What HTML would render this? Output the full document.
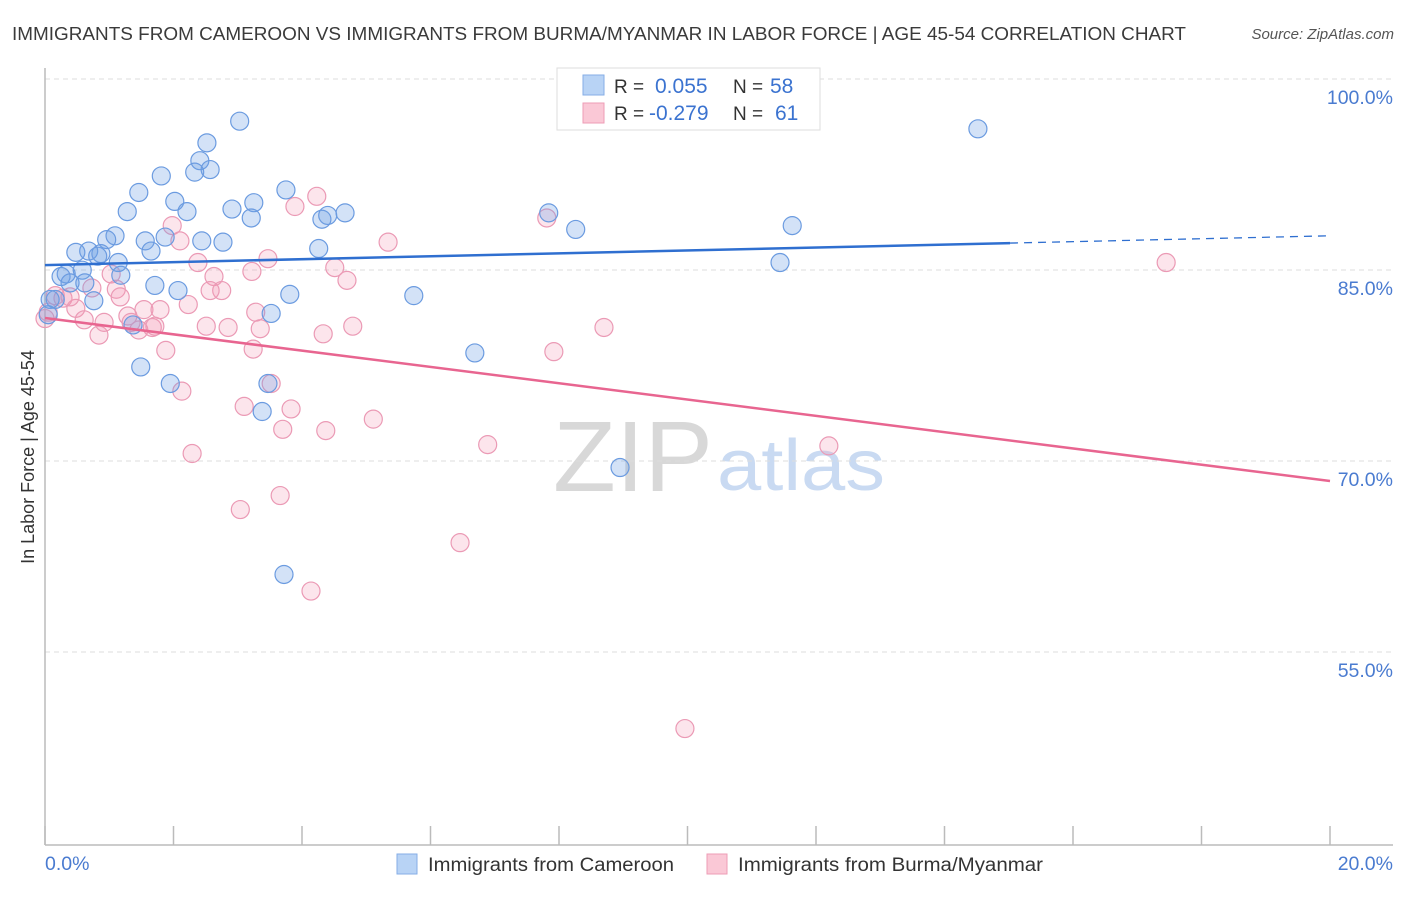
<!DOCTYPE html>
<html><head><meta charset="utf-8"><style>
body{margin:0;background:#fff;font-family:"Liberation Sans",sans-serif;}
svg text{font-family:"Liberation Sans",sans-serif;}
</style></head><body>
<svg id="chart" width="1406" height="892" xmlns="http://www.w3.org/2000/svg">
<text x="12" y="40" font-size="18" fill="#3a3a3a" textLength="1174" lengthAdjust="spacingAndGlyphs">IMMIGRANTS FROM CAMEROON VS IMMIGRANTS FROM BURMA/MYANMAR IN LABOR FORCE | AGE 45-54 CORRELATION CHART</text>
<text x="1394" y="39" font-size="15" fill="#555" font-style="italic" text-anchor="end">Source: ZipAtlas.com</text>
<g>
<text x="553" y="491" font-size="100" fill="#d8d8d8" font-family="Liberation Serif, serif" textLength="160" lengthAdjust="spacingAndGlyphs">ZIP</text>
<text x="717" y="490" font-size="72" fill="#c9daf2" textLength="168" lengthAdjust="spacingAndGlyphs">atlas</text>
</g>
<g id="grid"></g><g id="axes"></g><g id="pts"></g><g id="trends"></g>
<text transform="translate(34,457) rotate(-90)" font-size="18" fill="#333" text-anchor="middle">In Labor Force | Age 45-54</text>
<text x="45" y="870" font-size="19.5" fill="#4a7bd0">0.0%</text>
<text x="1393" y="870" font-size="19.5" fill="#4a7bd0" text-anchor="end">20.0%</text>
<g>
<rect x="557" y="68" width="263" height="62" fill="#fff" stroke="#ddd"/>
<rect x="583" y="75" width="21" height="20" fill="#b8d3f5" stroke="#86aee6"/>
<rect x="583" y="103" width="21" height="20" fill="#fac8d6" stroke="#ee9cb6"/>
<text x="614" y="93" font-size="19" fill="#333">R =</text><text x="655" y="93" font-size="21" fill="#3b73d0">0.055</text>
<text x="733" y="93" font-size="19" fill="#333">N =</text><text x="770" y="93" font-size="21" fill="#3b73d0">58</text>
<text x="614" y="120" font-size="19" fill="#333">R =</text><text x="649" y="120" font-size="21" fill="#3b73d0">-0.279</text>
<text x="733" y="120" font-size="19" fill="#333">N =</text><text x="775" y="120" font-size="21" fill="#3b73d0">61</text>
</g>
<g>
<rect x="397" y="854" width="20" height="20" fill="#b8d3f5" stroke="#86aee6"/>
<text x="428" y="871" font-size="19" fill="#333" textLength="246" lengthAdjust="spacingAndGlyphs">Immigrants from Cameroon</text>
<rect x="707" y="854" width="20" height="20" fill="#fac8d6" stroke="#ee9cb6"/>
<text x="738" y="871" font-size="19" fill="#333" textLength="305" lengthAdjust="spacingAndGlyphs">Immigrants from Burma/Myanmar</text>
</g>
</svg>
<script>
const yTicks=[100,85,70,55];
const yTickLabels=["100.0%","85.0%","70.0%","55.0%"];
const xTicks=[0,2,4,6,8,10,12,14,16,18,20];
const blueX=[3.03,2.52,2.41,2.33,2.57,1.81,1.46,2.02,1.28,2.21,2.91,3.25,3.21,3.75,1.09,0.96,1.56,1.87,1.65,2.44,2.77,0.48,0.68,0.87,0.82,1.14,1.18,0.33,0.58,0.25,0.62,0.76,1.71,2.07,3.81,3.52,1.37,1.49,1.95,3.47,3.38,3.72,4.26,4.31,4.40,4.67,5.74,6.69,7.84,8.26,8.95,11.44,11.63,14.52,0.16,0.08,0.05,0.39];
const blueY=[98.1,96.4,95.0,94.1,94.3,93.8,92.5,91.8,91.0,91.0,91.2,91.7,90.5,92.7,89.1,88.8,88.7,89.0,87.9,88.7,88.6,87.8,87.9,87.7,87.5,87.0,86.0,86.1,86.4,85.9,85.4,84.0,85.2,84.8,84.5,83.0,82.1,78.8,77.5,77.5,75.3,62.5,88.1,90.4,90.7,90.9,84.4,79.9,90.9,89.6,70.9,87.0,89.9,97.5,84.1,84.1,82.9,85.4];
const pinkX=[1.98,2.10,2.38,2.63,2.75,2.57,3.22,3.47,3.89,4.23,4.51,4.70,5.34,7.81,17.45,0.16,0.28,0.48,0.61,0.73,0.84,0.92,1.03,1.11,1.17,1.29,1.34,1.46,1.54,1.67,1.71,1.79,1.88,2.23,2.51,2.85,3.28,3.35,3.24,4.33,4.79,2.13,3.10,3.52,3.70,3.83,4.37,5.11,2.29,3.04,3.66,4.14,6.46,6.89,7.92,8.70,12.20,9.96,0.05,0.0,0.39];
const pinkY=[89.9,88.7,87.0,85.9,84.8,84.8,86.3,87.3,91.4,92.2,86.6,85.6,88.6,90.5,87.0,84.4,84.2,83.4,82.5,85.0,81.3,82.3,86.1,84.9,84.3,82.8,82.3,81.7,83.3,81.9,82.0,83.3,80.1,83.7,82.0,81.9,83.1,81.8,80.2,81.4,82.0,76.9,75.7,77.5,73.9,75.5,73.8,74.7,72.0,67.6,68.7,61.2,65.0,72.7,80.0,81.9,72.6,50.4,83.1,82.6,84.3];
const blueTrend=[86.8,89.1];
const pinkTrend=[82.64,69.84];
const NS="http://www.w3.org/2000/svg";
const X0=45,X1=1330,Ytop=97,PX=12.733;
function xs(v){return X0+(v/20)*(X1-X0);}
function ys(v){return Ytop+(100-v)*PX;}
function mk(tag,attrs,parent){const e=document.createElementNS(NS,tag);for(const k in attrs)e.setAttribute(k,attrs[k]);document.getElementById(parent).appendChild(e);return e;}
yTicks.forEach((t,i)=>{
  const g=mk('line',{x1:X0,x2:1393,y1:ys(t)-18,y2:ys(t)-18,stroke:'#ddd','stroke-dasharray':'5,4'},'grid');
  
  
  const l=mk('text',{x:1393,y:ys(t)+7,'font-size':19.5,fill:'#4a7bd0','text-anchor':'end'},'grid');
  l.textContent=yTickLabels[i];
  
  
});
let a=mk('line',{x1:X0,x2:X0,y1:68,y2:845,stroke:'#bbb','stroke-width':1.5},'axes');


a=mk('line',{x1:X0,x2:1393,y1:845,y2:845,stroke:'#bbb','stroke-width':1.5},'axes');


xTicks.forEach(t=>{
  const e=mk('line',{x1:xs(t),x2:xs(t),y1:826,y2:845,stroke:'#bbb','stroke-width':1.5},'axes');
  
  
});
pinkX.forEach((x,i)=>{
  const c=mk('circle',{cx:xs(x),cy:ys(pinkY[i]),r:9,fill:'rgba(244,150,180,0.25)',stroke:'#eb9ab5','stroke-width':1.2},'pts');
  
  
});
blueX.forEach((x,i)=>{
  const c=mk('circle',{cx:xs(x),cy:ys(blueY[i]),r:9,fill:'rgba(110,160,230,0.3)',stroke:'#6b9be0','stroke-width':1.2},'pts');
  
  
});
const bEnd=15.02, bAt=v=>blueTrend[0]+(blueTrend[1]-blueTrend[0])*v/20;
let t=mk('line',{x1:xs(0),y1:ys(blueTrend[0]),x2:xs(bEnd),y2:ys(bAt(bEnd)),stroke:'#2f6fd0','stroke-width':2.5},'trends');


t=mk('line',{x1:xs(bEnd),y1:ys(bAt(bEnd)),x2:xs(20),y2:ys(blueTrend[1]),stroke:'#2f6fd0','stroke-width':1.3,'stroke-dasharray':'8,6'},'trends');


t=mk('line',{x1:xs(0),y1:ys(pinkTrend[0]),x2:xs(20),y2:ys(pinkTrend[1]),stroke:'#e86590','stroke-width':2.5},'trends');


</script>
</body></html>
